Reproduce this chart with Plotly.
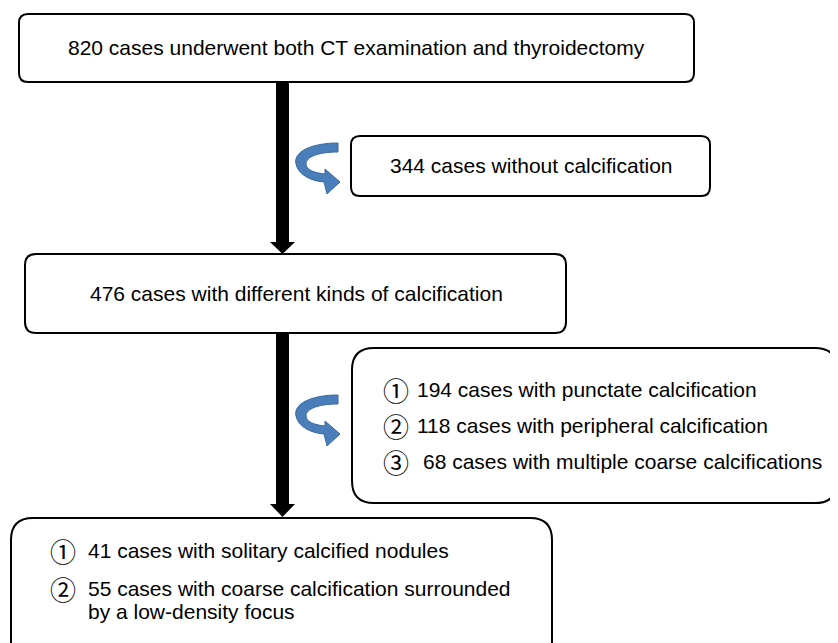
import plotly.graph_objects as go

# ---- data ----
total_cases = 820
no_calc_cases = 344
calc_cases = 476
excluded_labels = ["①", "②", "③"]
excluded_counts = [194, 118, 68]
excluded_kinds = ["punctate calcification", "peripheral calcification", "multiple coarse calcifications"]
included_labels = ["①", "②"]
included_counts = [41, 55]
included_kinds = ["solitary calcified nodules", "coarse calcification surrounded"]
included_extra = "by a low-density focus"

W, H = 838, 643
OFF = 8  # page body margin
FONT = "Liberation Sans, Arial, DejaVu Sans"
CIRC_FONT = "Noto Sans CJK SC, DejaVu Sans"
FS = 21

def rrect(x0, y0, x1, y1, r):
    return (f"M {x0+r} {y0} L {x1-r} {y0} Q {x1} {y0} {x1} {y0+r} "
            f"L {x1} {y1-r} Q {x1} {y1} {x1-r} {y1} L {x0+r} {y1} "
            f"Q {x0} {y1} {x0} {y1-r} L {x0} {y0+r} Q {x0} {y0} {x0+r} {y0} Z")

def down_arrow(cx, y0, yb, yt, sw=13, hw=25):
    return (f"M {cx-sw/2} {y0} L {cx+sw/2} {y0} L {cx+sw/2} {yb} L {cx+hw/2} {yb} "
            f"L {cx} {yt} L {cx-hw/2} {yb} L {cx-sw/2} {yb} Z")

def curved(oy):
    pts = [
        "M", 338, 143,
        "C", 311, 143, 293, 152, 296, 164,
        "C", 298, 174, 310, 181, 324, 182,
        "L", 327, 194,
        "L", 340, 182,
        "L", 325, 169,
        "L", 325, 174,
        "C", 315, 173, 306, 170, 306, 164,
        "C", 306, 157, 318, 152, 338, 152,
    ]
    out = []
    k = 0
    for p in pts:
        if isinstance(p, str):
            out.append(p)
            k = 0
        else:
            out.append(str(p + (oy if k % 2 == 1 else 0)))
            k += 1
    return " ".join(out) + " Z"

shapes = []
box = dict(type="path", xref="x", yref="y", line=dict(color="black", width=2), fillcolor="white", layer="below")
shapes.append(dict(box, path=rrect(19, 14, 694, 82, 9)))
shapes.append(dict(box, path=rrect(351, 136, 710, 196, 9)))
shapes.append(dict(box, path=rrect(25, 254, 566, 333, 11)))
shapes.append(dict(box, path=rrect(352, 348, 837, 503, 22)))
shapes.append(dict(box, path=rrect(11, 518, 552, 665, 22)))

arrow = dict(type="path", xref="x", yref="y", line=dict(width=0), fillcolor="black")
shapes.append(dict(arrow, path=down_arrow(282.5, 82, 242, 254)))
shapes.append(dict(arrow, path=down_arrow(282.5, 333, 504, 517)))

blue = dict(type="path", xref="x", yref="y", line=dict(color="#3A6A9C", width=1), fillcolor="#4A7EBB")
shapes.append(dict(blue, path=curved(0)))
shapes.append(dict(blue, path=curved(252)))

ann = []
def txt(x, y, s, anchor="center", family=FONT, size=FS):
    ann.append(dict(x=x, y=y, xref="x", yref="y", text=s, showarrow=False,
                    xanchor=anchor, yanchor="middle",
                    font=dict(family=family, size=size, color="black")))

txt(356, 47, f"{total_cases} cases underwent both CT examination and thyroidectomy")
txt(531, 165, f"{no_calc_cases} cases without calcification")
txt(296, 293, f"{calc_cases} cases with different kinds of calcification")

ys = [389, 425, 461]
for lab, n, k, y in zip(excluded_labels, excluded_counts, excluded_kinds, ys):
    txt(381, y, lab, "left", CIRC_FONT, 26)
    xs = 415 if n >= 100 else 421
    txt(xs, y, f"{n} cases with {k}", "left")

ys2 = [550, 588]
for lab, n, k, y in zip(included_labels, included_counts, included_kinds, ys2):
    txt(48, y, lab, "left", CIRC_FONT, 26)
    txt(86, y, f"{n} cases with {k}", "left")
txt(86, 611, included_extra, "left")

fig = go.Figure()
fig.update_layout(
    width=W - OFF, height=H - OFF, margin=dict(l=0, r=0, t=0, b=0),
    paper_bgcolor="white", plot_bgcolor="white",
    xaxis=dict(range=[OFF, W], visible=False, fixedrange=True),
    yaxis=dict(range=[H, OFF], visible=False, fixedrange=True),
    shapes=shapes, annotations=ann, showlegend=False,
)
fig.write_html("out.html")
